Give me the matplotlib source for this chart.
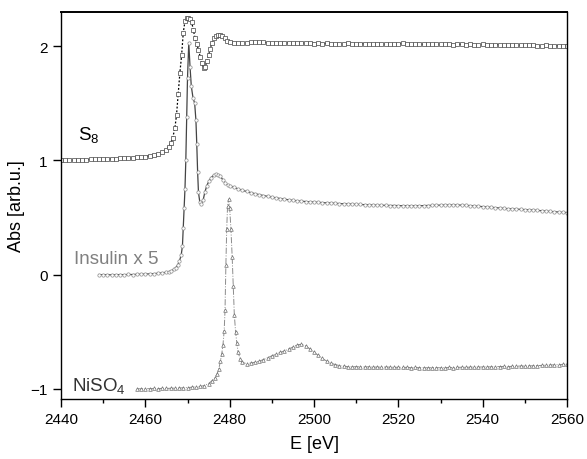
import numpy as np
import matplotlib
matplotlib.use("Agg")
import matplotlib.pyplot as plt
from matplotlib.ticker import MultipleLocator

matplotlib.rcParams["font.family"] = ["Liberation Sans", "DejaVu Sans"]
matplotlib.rcParams["mathtext.fontset"] = "custom"
matplotlib.rcParams["mathtext.rm"] = "Liberation Sans"
matplotlib.rcParams["mathtext.default"] = "regular"

# ---- S8 (squares, dotted) ----
s8_e = list(range(2440, 2465)) + [
    2465, 2465.5, 2466, 2466.5, 2467, 2467.4, 2467.8, 2468.2, 2468.6, 2469.0,
    2469.4, 2469.8, 2470.2, 2470.6, 2471.0, 2471.4, 2471.8, 2472.2, 2472.6, 2473.0,
    2473.4, 2473.8, 2474.2, 2474.6, 2475.0, 2475.4, 2475.8, 2476.3, 2476.8, 2477.3,
    2477.8, 2478.3, 2478.8, 2479.4] + list(range(2480, 2561))
s8_abs = [
    1.000, 1.001, 1.003, 1.003, 1.005, 1.006, 1.006, 1.008, 1.009, 1.010,
    1.011, 1.012, 1.014, 1.015, 1.017, 1.019, 1.021, 1.024, 1.027, 1.030,
    1.034, 1.040, 1.047, 1.057, 1.072,
    1.095, 1.12, 1.15, 1.20, 1.28, 1.40, 1.58, 1.77, 1.92, 2.12,
    2.22, 2.245, 2.25, 2.24, 2.21, 2.14, 2.07, 2.02, 1.97, 1.91,
    1.85, 1.81, 1.82, 1.87, 1.92, 1.98, 2.03, 2.07, 2.09, 2.10,
    2.10, 2.09, 2.07, 2.05,
    2.035, 2.028, 2.025, 2.026, 2.030, 2.034, 2.036, 2.035, 2.034, 2.032,
    2.030, 2.031, 2.029, 2.027, 2.030, 2.028, 2.026, 2.029, 2.027, 2.025,
    2.024, 2.026, 2.023, 2.025, 2.022, 2.024, 2.021, 2.023, 2.025, 2.022,
    2.020, 2.023, 2.021, 2.019, 2.022, 2.024, 2.020, 2.018, 2.021, 2.019,
    2.022, 2.025, 2.020, 2.018, 2.021, 2.019, 2.017, 2.020, 2.018, 2.016,
    2.019, 2.021, 2.017, 2.015, 2.018, 2.016, 2.014, 2.017, 2.015, 2.013,
    2.016, 2.014, 2.012, 2.015, 2.013, 2.010, 2.012, 2.010, 2.008, 2.011,
    2.009, 2.007, 2.010, 2.006, 2.005, 2.008, 2.004, 2.003, 2.005, 2.002,
    2.000]

# ---- Insulin x 5 (circles, solid) ----
ins_e = list(range(2449, 2465)) + [
    2465, 2465.6, 2466.2, 2466.7, 2467.2, 2467.7, 2468.1, 2468.5, 2468.8, 2469.0,
    2469.2, 2469.4, 2469.6, 2469.8, 2470.0, 2470.3, 2470.6, 2470.9, 2471.3, 2471.7,
    2472.0, 2472.2, 2472.4, 2472.6, 2472.9, 2473.3, 2473.7, 2474.1, 2474.6, 2475.1,
    2475.6, 2476.2, 2476.8, 2477.3, 2477.8, 2478.4, 2479.0, 2479.6] + list(range(2480, 2561))
ins_abs = [
    0.000, -0.002, -0.001, -0.003, -0.002, 0.000, -0.001, 0.001, 0.000, 0.002,
    0.003, 0.004, 0.006, 0.008, 0.011, 0.015,
    0.020, 0.026, 0.034, 0.045, 0.060, 0.085, 0.12, 0.17, 0.25, 0.41,
    0.58, 0.75, 1.00, 1.38, 1.72, 2.03, 1.82, 1.65, 1.55, 1.50,
    1.35, 1.14, 0.90, 0.72, 0.64, 0.62, 0.65, 0.72, 0.78, 0.82,
    0.85, 0.87, 0.88, 0.875, 0.86, 0.83, 0.80, 0.785,
    0.775, 0.765, 0.750, 0.738, 0.728, 0.718, 0.708, 0.700, 0.692, 0.685,
    0.678, 0.672, 0.666, 0.660, 0.655, 0.650, 0.646, 0.642, 0.640, 0.637,
    0.635, 0.633, 0.630, 0.628, 0.627, 0.624, 0.622, 0.620, 0.619, 0.617,
    0.615, 0.614, 0.612, 0.611, 0.609, 0.608, 0.607, 0.606, 0.605, 0.605,
    0.604, 0.603, 0.603, 0.602, 0.602, 0.603, 0.604, 0.605, 0.606, 0.607,
    0.608, 0.609, 0.609, 0.610, 0.609, 0.608, 0.606, 0.604, 0.601, 0.598,
    0.595, 0.592, 0.589, 0.586, 0.583, 0.580, 0.577, 0.575, 0.573, 0.571,
    0.569, 0.567, 0.565, 0.562, 0.559, 0.556, 0.553, 0.550, 0.548, 0.545,
    0.543]

# ---- NiSO4 (triangles, dash-dot) ----
ni_e = list(range(2458, 2473)) + [
    2473, 2474, 2475, 2475.8, 2476.5, 2477.0, 2477.4, 2477.8, 2478.1, 2478.4,
    2478.7, 2478.9, 2479.1, 2479.3, 2479.5, 2479.75, 2480.0, 2480.3, 2480.6, 2480.85,
    2481.1, 2481.4, 2481.7, 2482.0, 2482.5, 2483, 2484] + list(range(2485, 2561))
ni_abs = [
    -1.000, -1.001, -0.999, -1.000, -0.998, -0.999, -0.997, -0.998, -0.996, -0.995,
    -0.994, -0.992, -0.990, -0.987, -0.984,
    -0.980, -0.972, -0.955, -0.930, -0.905, -0.87, -0.83, -0.76, -0.70, -0.62,
    -0.49, -0.31, 0.08, 0.40, 0.60, 0.66, 0.58, 0.40, 0.15, -0.10,
    -0.35, -0.50, -0.60, -0.68, -0.74, -0.77, -0.78,
    -0.775, -0.768, -0.758, -0.745, -0.728, -0.712, -0.697, -0.682, -0.668, -0.652,
    -0.635, -0.614, -0.612, -0.625, -0.650, -0.680, -0.708, -0.735, -0.758, -0.775,
    -0.788, -0.797, -0.803, -0.806, -0.808, -0.807, -0.809, -0.810, -0.808, -0.811,
    -0.810, -0.812, -0.810, -0.811, -0.813, -0.812, -0.814, -0.813, -0.815, -0.814,
    -0.816, -0.815, -0.817, -0.816, -0.815, -0.817, -0.816, -0.814, -0.815, -0.813,
    -0.812, -0.813, -0.811, -0.810, -0.811, -0.809, -0.808, -0.809, -0.807, -0.806,
    -0.805, -0.806, -0.804, -0.803, -0.801, -0.802, -0.800, -0.799, -0.797, -0.796,
    -0.794, -0.792, -0.791, -0.789, -0.787, -0.785]

fig = plt.figure(figsize=(5.87, 4.60), dpi=100)
ax = fig.add_axes([61 / 587, 1 - 400 / 460, 506 / 587, 387 / 460])

# S8: black dotted line with small open squares
ax.plot(s8_e, s8_abs, color="black", linestyle=(0, (1.5, 1.5)), linewidth=0.9,
        marker="s", markersize=2.2, markerfacecolor="white",
        markeredgecolor="#444444", markeredgewidth=0.5)
# insulin: dark solid line, grey circles
ax.plot(ins_e, ins_abs, color="#444444", linestyle="-", linewidth=0.9,
        marker="o", markersize=2.4, markerfacecolor="white",
        markeredgecolor="#8c8c8c", markeredgewidth=0.5)
# NiSO4: grey dash-dot, triangles
ax.plot(ni_e, ni_abs, color="#8c8c8c", linestyle="-.", linewidth=0.7,
        marker="^", markersize=2.6, markerfacecolor="white",
        markeredgecolor="#6e6e6e", markeredgewidth=0.5)

ax.text(2444.0, 1.19, "S$_8$", fontsize=13.5, color="black")
ax.text(2443.1, 0.105, "Insulin x 5", fontsize=13.5, color="#808080")
ax.text(2442.6, -1.013, "NiSO$_4$", fontsize=13.5, color="#333333")

ax.set_xlim(2440, 2560)
ax.set_ylim(-1.09, 2.30)
ax.xaxis.set_major_locator(MultipleLocator(20))
ax.xaxis.set_minor_locator(MultipleLocator(10))
ax.yaxis.set_major_locator(MultipleLocator(1))
ax.tick_params(axis="both", which="major", direction="out", length=6,
               width=1, labelsize=11, top=False, right=False)
ax.tick_params(axis="x", which="minor", direction="out", length=3, width=1)
for sp in ax.spines.values():
    sp.set_linewidth(1.0)
ax.spines["top"].set_linewidth(1.4)

ax.set_xlabel("E [eV]", fontsize=13, labelpad=6)
ax.set_ylabel("Abs [arb.u.]", fontsize=13, labelpad=4)

fig.savefig("out.png", dpi=100)
